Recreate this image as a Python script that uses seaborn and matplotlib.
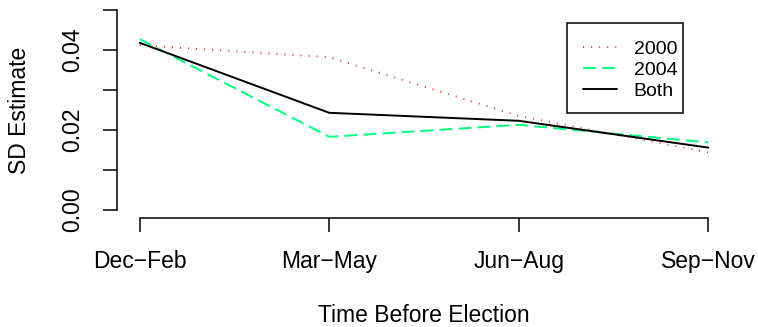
import matplotlib
matplotlib.use("Agg")
import matplotlib.pyplot as plt
from matplotlib.path import Path
from matplotlib.legend_handler import HandlerLine2D
import numpy as np
import pandas as pd
import seaborn as sns

# ---- data ----
periods = ["Dec\u2212Feb", "Mar\u2212May", "Jun\u2212Aug", "Sep\u2212Nov"]
sd_2000 = [0.0412, 0.0382, 0.0235, 0.0144]
sd_2004 = [0.0427, 0.0183, 0.0213, 0.0169]
sd_both = [0.0418, 0.0243, 0.0223, 0.0156]
series_names = ["2000", "2004", "Both"]
y_ticks_major = [0.00, 0.02, 0.04]
y_ticks_minor = [0.01, 0.03, 0.05]

rows = []
for name, vals in zip(series_names, [sd_2000, sd_2004, sd_both]):
    for i, v in enumerate(vals):
        rows.append({"pos": i, "sd": v, "series": name})
df = pd.DataFrame(rows)

sns.set_style("white")
plt.rcParams["font.family"] = ["Liberation Sans", "DejaVu Sans"]
plt.rcParams["lines.scale_dashes"] = False
plt.rcParams["text.color"] = "black"
plt.rcParams["axes.labelcolor"] = "black"
plt.rcParams["xtick.color"] = "black"
plt.rcParams["ytick.color"] = "black"

fig = plt.figure(figsize=(7.58, 3.27), dpi=100)
ax = fig.add_axes([117 / 758, 1 - 218 / 327, (731 - 117) / 758, (218 - 2) / 327])

palette = {"2000": "#E0443F", "2004": "#00FF7F", "Both": "#000000"}
dashes = {"2000": (0.8, 5.0), "2004": (9.4, 4.3), "Both": ""}
sns.lineplot(data=df, x="pos", y="sd", hue="series", style="series",
             hue_order=series_names, style_order=series_names,
             palette=palette, dashes=dashes, linewidth=1.4, ax=ax, legend=False)

ax.set_xlim(-0.12, 3.12)
ax.set_ylim(-0.002, 0.052)

for s in ["top", "right"]:
    ax.spines[s].set_visible(False)
for s in ["left", "bottom"]:
    ax.spines[s].set_visible(True)
    ax.spines[s].set_color("black")
    ax.spines[s].set_linewidth(1.1)
ax.spines["left"].set_bounds(0, 0.05)
ax.spines["bottom"].set_bounds(0, 3)

ax.set_xticks(range(len(periods)))
ax.set_xticklabels(periods, fontsize=16.5, color="black")
ax.set_yticks(y_ticks_major)
ax.set_yticklabels([f"{v:.2f}" for v in y_ticks_major], fontsize=16.5,
                   rotation=90, va="center", color="black")
ax.set_yticks(y_ticks_minor, minor=True)
ax.tick_params(axis="both", which="both", direction="out", length=10, width=1.1,
               color="black", left=True, bottom=True, labelcolor="black")
ax.tick_params(axis="y", which="major", pad=14)
ax.tick_params(axis="x", which="major", pad=13)
ax.grid(False)

ax.set_xlabel("Time Before Election", fontsize=16.5, color="black")
ax.set_ylabel("SD Estimate", fontsize=16.5, color="black")
ax.xaxis.set_label_coords((424 - 117) / 614, (218 - 316) / 216)
ax.xaxis.label.set_verticalalignment("center")
ax.yaxis.set_label_coords((19 - 117) / 614, 0.5)
ax.yaxis.label.set_verticalalignment("center")


def frame_style(x0, y0, width, height, mutation_size):
    ey_top = 0.57 * mutation_size
    ey_bot = 0.35 * mutation_size
    return Path([(x0, y0 - ey_bot), (x0 + width, y0 - ey_bot),
                 (x0 + width, y0 + height + ey_top), (x0, y0 + height + ey_top),
                 (x0, y0 - ey_bot)], closed=True)


handles = ax.get_lines()[:3]
leg = ax.legend(handles, series_names, loc="upper left",
                bbox_to_anchor=(567 / 758, 1 - 34.4 / 327),
                bbox_transform=fig.transFigure,
                handler_map={h: HandlerLine2D(xpad=0.536) for h in handles},
                fontsize=14, frameon=True, fancybox=False, framealpha=1,
                edgecolor="black", handlelength=2.29, handletextpad=0.85,
                borderpad=0.29, labelspacing=0.19, borderaxespad=0)
leg.get_frame().set_linewidth(1.1)
leg.get_frame().set_boxstyle(frame_style)
for t in leg.get_texts():
    t.set_color("black")

fig.savefig("out.png", dpi=100)
